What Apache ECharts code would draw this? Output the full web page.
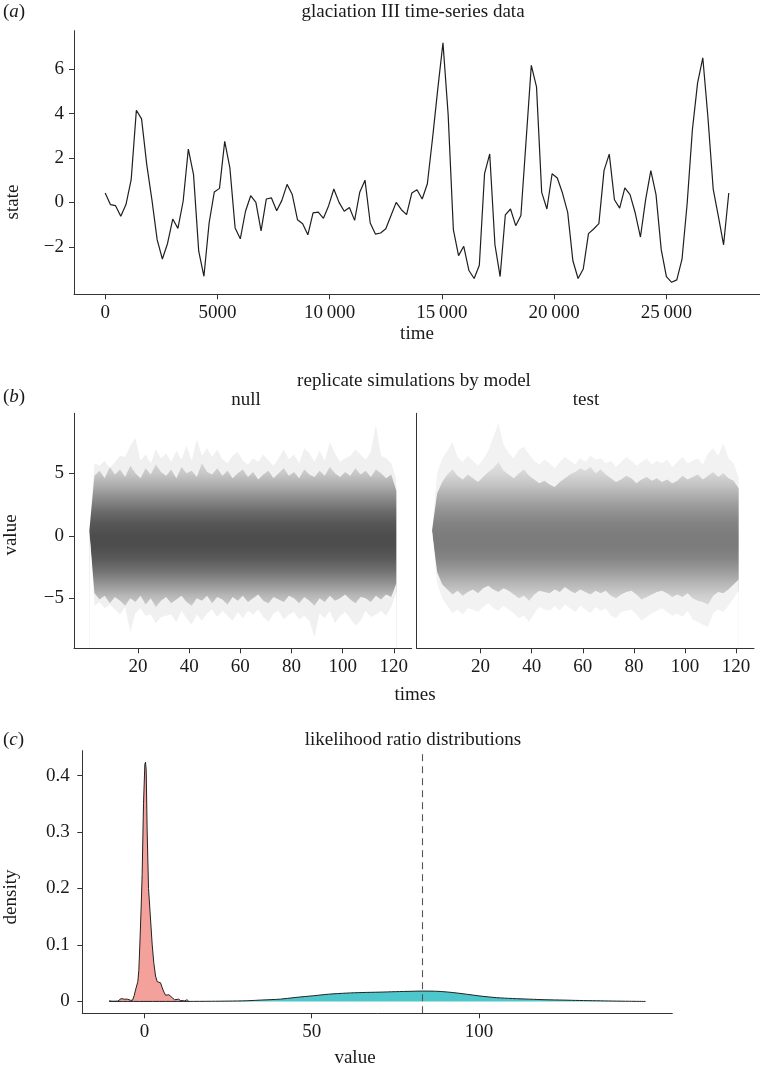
<!DOCTYPE html>
<html><head><meta charset="utf-8">
<script src="https://cdn.jsdelivr.net/npm/echarts@6/dist/echarts.min.js"></script>
<style>html,body{margin:0;padding:0;background:#fff}#c{width:760px;height:1067px}</style>
</head><body><div id="c"></div>
<script>
// ---------- panel (a): glaciation III time series ----------
const glacTime = [0,232,463,695,926,1158,1389,1621,1852,2084,
2315,2547,2778,3010,3241,3473,3704,3936,4167,4399,
4630,4862,5093,5325,5556,5788,6019,6251,6482,6714,
6945,7177,7408,7640,7871,8103,8334,8566,8797,9029,
9260,9492,9723,9955,10186,10418,10649,10881,11112,11344,
11575,11807,12038,12270,12501,12733,12964,13196,13427,13659,
13890,14122,14353,14585,14816,15048,15279,15511,15742,15974,
16205,16437,16668,16900,17131,17363,17594,17826,18057,18289,
18520,18752,18983,19215,19446,19678,19909,20141,20372,20604,
20835,21067,21298,21530,21761,21993,22224,22456,22687,22919,
23150,23382,23613,23845,24076,24308,24539,24771,25002,25234,
25465,25697,25928,26160,26391,26623,26854,27086,27317,27549,
27780];
const glacState = [0.42,-0.10,-0.15,-0.63,-0.10,1.02,4.15,3.76,1.70,0.10,
-1.68,-2.55,-1.85,-0.75,-1.17,0.05,2.40,1.25,-2.20,-3.33,
-0.93,0.47,0.63,2.75,1.55,-1.15,-1.64,-0.40,0.30,0.00,
-1.28,0.15,0.20,-0.38,0.09,0.81,0.35,-0.78,-0.96,-1.46,
-0.47,-0.44,-0.72,-0.15,0.60,0.00,-0.40,-0.23,-0.81,0.47,
1.00,-0.93,-1.43,-1.38,-1.19,-0.59,0.00,-0.33,-0.55,0.42,
0.57,0.15,0.84,2.90,5.10,7.19,3.95,-1.23,-2.40,-1.98,
-3.07,-3.43,-2.83,1.29,2.18,-1.91,-3.34,-0.56,-0.30,-1.05,
-0.59,2.80,6.17,5.20,0.45,-0.30,1.29,1.10,0.42,-0.45,
-2.63,-3.43,-3.00,-1.41,-1.20,-0.96,1.44,2.17,0.12,-0.26,
0.65,0.35,-0.48,-1.56,0.12,1.43,0.35,-2.13,-3.34,-3.60,
-3.49,-2.56,-0.03,3.28,5.38,6.51,3.80,0.60,-0.63,-1.91,
0.42];
const timeTicks = [0,5000,10000,15000,20000,25000];
const stateTicks = [-2,0,2,4,6];

// ---------- panel (b): envelopes of the replicate simulations ----------
const simTimeTicks = [20,40,60,80,100,120];
const simValueTicks = [-5,0,5];
const extTimes = [1,3,5,7,9,11,13,15,17,19,21,23,25,27,29,31,33,35,37,39,41,43,45,47,49,51,53,55,57,59,
61,63,65,67,69,71,73,75,77,79,81,83,85,87,89,91,93,95,97,99,101,103,105,107,109,111,113,115,117,119,121];

// outermost replicate values (sparse extremes)
const nullExtUpper = [0.4,5.8,5.6,6.0,5.4,5.9,6.4,6.3,7.2,7.8,
6.0,6.5,5.8,6.9,6.2,6.6,5.9,6.8,6.1,7.2,
6.0,7.7,6.4,7.0,6.3,6.9,6.1,5.8,6.4,6.7,
6.0,5.7,6.2,5.9,6.5,6.0,5.6,6.2,6.9,6.1,
6.5,5.8,7.0,6.6,5.9,6.8,6.0,7.5,6.6,5.9,
6.2,6.4,6.9,6.5,6.1,6.7,8.9,6.4,6.2,5.8,
4.5];
const nullExtLower = [0.4,-5.6,-5.3,-5.8,-5.5,-5.9,-6.3,-5.7,-7.7,-6.2,
-5.8,-6.4,-6.3,-7.0,-6.5,-6.4,-6.3,-6.9,-6.0,-6.6,
-7.1,-6.3,-6.8,-6.2,-5.9,-6.5,-6.0,-6.4,-6.8,-6.1,
-6.6,-6.0,-6.3,-5.9,-6.5,-6.9,-6.2,-6.0,-6.7,-6.3,
-6.1,-6.7,-6.4,-6.8,-8.1,-6.2,-6.6,-6.0,-7.0,-6.4,
-6.1,-6.6,-7.2,-6.8,-6.0,-6.5,-6.3,-6.0,-6.4,-5.7,
-4.5];
// edge of the dense mass of replicates
const nullMassUpper = [0.4,4.8,5.2,4.6,5.5,4.9,5.3,4.7,5.6,5.0,
4.6,5.4,4.9,5.7,5.1,4.8,5.3,4.6,5.5,5.0,
5.2,4.7,5.8,5.1,4.9,5.4,4.8,5.2,4.6,5.0,
5.3,4.7,5.1,4.5,4.9,5.2,4.6,5.0,5.4,4.8,
5.1,4.6,5.3,4.9,4.7,5.2,4.8,5.5,5.0,4.7,
5.1,4.8,5.4,4.9,5.2,4.7,5.3,5.0,4.6,4.9,
3.6];
const nullMassLower = [0.4,-4.6,-5.1,-4.8,-5.4,-4.9,-5.2,-5.6,-5.0,-5.3,
-4.8,-5.5,-5.0,-5.7,-5.2,-4.9,-5.4,-5.1,-4.8,-5.3,
-5.6,-5.0,-5.2,-4.8,-5.4,-4.9,-5.1,-5.5,-4.9,-5.2,
-4.8,-5.3,-5.0,-4.7,-5.2,-5.4,-4.9,-5.1,-5.3,-4.8,
-5.0,-5.4,-4.9,-5.2,-5.6,-5.0,-5.3,-4.8,-5.2,-5.0,
-4.7,-5.1,-5.4,-4.9,-5.0,-5.3,-4.8,-5.1,-4.7,-4.9,
-3.8];
const testExtUpper = [0.4,5.0,6.2,6.8,7.5,6.3,5.9,6.4,6.0,5.6,
6.1,6.8,7.9,9.0,7.3,6.6,6.2,6.9,7.1,6.5,
6.0,5.7,6.1,5.8,5.4,5.9,6.3,6.0,5.7,6.2,
5.9,6.4,6.1,6.2,5.8,6.0,5.5,5.9,6.3,6.0,
5.6,5.9,6.2,5.7,6.0,5.8,6.1,5.5,5.9,6.3,
5.8,6.0,6.2,5.7,6.6,7.0,6.4,7.4,6.2,5.8,
4.7];
const testExtLower = [0.4,-3.8,-5.0,-5.6,-6.2,-5.9,-6.3,-5.8,-5.9,-6.1,
-5.7,-5.4,-5.8,-6.0,-5.6,-5.9,-6.2,-6.6,-6.4,-6.9,
-6.2,-5.7,-5.9,-6.0,-5.6,-6.0,-5.5,-5.8,-6.1,-5.6,
-5.9,-6.2,-5.7,-6.0,-5.8,-6.4,-6.6,-6.1,-6.0,-5.9,
-6.3,-6.8,-6.5,-6.2,-6.0,-5.8,-6.1,-6.4,-6.2,-6.5,
-6.0,-6.7,-6.9,-7.1,-7.3,-6.2,-5.9,-6.1,-5.6,-5.0,
-4.4];
const testMassUpper = [0.4,3.4,4.3,4.9,5.3,4.8,4.5,4.9,4.6,4.3,
4.7,5.1,5.4,5.9,5.2,4.9,4.6,5.0,5.3,4.8,
4.5,4.2,4.4,4.1,3.9,4.3,4.6,4.9,5.1,5.4,
5.2,5.5,5.0,5.3,4.9,4.6,4.3,4.5,4.8,4.6,
4.2,4.5,4.7,4.4,4.6,4.3,4.5,4.2,4.4,4.8,
4.5,4.7,4.9,4.5,4.8,5.1,4.7,5.0,4.6,4.4,
3.8];
const testMassLower = [0.4,-2.9,-3.9,-4.3,-4.7,-4.4,-4.8,-4.5,-4.3,-4.6,
-4.2,-4.0,-4.3,-4.5,-4.2,-4.4,-4.7,-5.0,-4.8,-5.2,
-4.7,-4.4,-4.5,-4.6,-4.3,-4.5,-4.1,-4.4,-4.6,-4.3,
-4.5,-4.7,-4.4,-4.6,-4.4,-4.8,-5.0,-4.7,-4.5,-4.4,
-4.7,-5.1,-4.9,-4.7,-4.5,-4.4,-4.6,-4.9,-4.7,-4.9,
-4.6,-5.0,-5.2,-5.3,-5.5,-4.8,-4.5,-4.6,-4.3,-3.9,
-3.5];

// ---------- panel (c): likelihood ratio densities ----------
const lrTicks = [0,50,100];
const densityTicks = [0,0.1,0.2,0.3,0.4];
const nullDensX = [-10.6,-9.5,-8.0,-7.0,-6.5,-6.0,-5.6,-5.0,-4.7,-4.2,-3.6,-3.1,-2.7,-2.3,-2.0,-1.7,-1.4,-1.0,-0.7,-0.3,
0.1,0.3,0.5,0.8,1.2,1.7,2.3,2.8,3.3,3.8,4.3,4.8,5.3,5.8,6.3,6.8,7.3,7.8,8.3,9.0,9.55,10.2,10.8,11.3,12.0,12.7,13.2];
const nullDensY = [0.001,0.0003,0.0005,0.005,0.0077,0.004,0.001,0.004,0.0053,0.002,0.002,0.010,0.020,0.022,0.035,0.055,0.100,0.167,0.225,0.350,
0.420,0.4237,0.410,0.300,0.200,0.155,0.100,0.067,0.045,0.035,0.038,0.033,0.024,0.0166,0.011,0.0089,0.0118,0.009,0.0065,0.003,0.0018,0.004,0.0015,0.0005,0.001,0.003,0.0005];
const testDensX = [-10.6,13,20,25,30.6,35,40.6,45,50.5,55,60.5,65,70.4,75,80,83,87,90.4,94,98.3,101.2,105.3,110,115.2,120,125.2,130,135.1,140,145,149.8];
const testDensY = [0,0.0001,0.0003,0.0006,0.0012,0.0025,0.0041,0.007,0.0101,0.0128,0.0148,0.0158,0.0165,0.0173,0.018,0.0184,0.0181,0.0168,0.0145,0.0112,0.009,0.0067,0.0052,0.004,0.003,0.0024,0.0017,0.0012,0.0007,0.0003,0];
const observedLR = 83;

// ---------- styling ----------
const FF = "'Liberation Serif','DejaVu Serif',serif";
const FS = 19;
const AX = '#333';
const TXT = '#1a1a1a';
const SIM_MIN = -9.0, SIM_MAX = 9.8;
const nullShade = [[6.0,'#d8d8d8'],[5.0,'#c8c8c8'],[4.0,'#acacac'],[3.0,'#8c8c8c'],[2.0,'#6d6d6d'],[1.0,'#575757'],[0.0,'#4d4d4d'],
  [-0.8,'#4d4d4d'],[-1.8,'#595959'],[-2.8,'#717171'],[-3.8,'#939393'],[-4.8,'#b7b7b7'],[-5.8,'#d0d0d0']];
const testShade = [[6.0,'#e2e2e2'],[5.0,'#d6d6d6'],[4.0,'#c2c2c2'],[3.0,'#a9a9a9'],[2.0,'#939393'],[1.0,'#838383'],[0.0,'#7c7c7c'],
  [-0.8,'#7b7b7b'],[-1.8,'#858585'],[-2.8,'#9b9b9b'],[-3.8,'#b6b6b6'],[-4.8,'#cecece'],[-5.8,'#dddddd']];
const nullSparse = '#f0f0f0';
const testSparse = '#f2f2f2';

const minus = v => (v < 0 ? '\u2212' + Math.abs(v) : String(v));
const thou = v => (Math.abs(v) >= 10000 ? String(v).replace(/\B(?=(\d{3})+(?!\d))/g, '\u2009') : String(v));

function xAx(gi, min, max, ticks, fmt) {
  return {type:'value', gridIndex:gi, min, max, z:6,
    axisLine:{show:true, onZero:false, lineStyle:{color:AX, width:1}},
    axisTick:{show:true, length:5, lineStyle:{color:AX, width:1}, customValues:ticks},
    axisLabel:{show:true, customValues:ticks, formatter:fmt, fontFamily:FF, fontSize:FS, color:TXT, margin:9},
    splitLine:{show:false}};
}
function yAx(gi, min, max, ticks, fmt, margin, showLabels) {
  return {type:'value', gridIndex:gi, min, max, z:6,
    axisLine:{show:true, onZero:false, lineStyle:{color:AX, width:1}},
    axisTick:{show:showLabels, length:5, lineStyle:{color:AX, width:1}, customValues:ticks},
    axisLabel:{show:showLabels, customValues:ticks, formatter:fmt, fontFamily:FF, fontSize:FS, color:TXT, margin:margin},
    splitLine:{show:false}};
}
function txt(text, x, y, opts) {
  opts = opts || {};
  return {type:'text', x:x, y:y, rotation:opts.rot || 0, silent:true, z:10,
    style:{text:text, font:FS + 'px ' + FF, fill:TXT,
      textAlign:opts.align || 'center', textVerticalAlign:'middle', rich:opts.rich}};
}
const rich = {i:{fontStyle:'italic', fontFamily:FF, fontSize:FS, color:TXT}};

const chart = echarts.init(document.getElementById('c'), null, {renderer:'canvas'});

chart.setOption({
  animation:false,
  backgroundColor:'#ffffff',
  grid:[
    {left:74, top:30.7, width:686, height:263.6, containLabel:false, outerBoundsMode:'none'},
    {left:74, top:413.3, width:337.7, height:235, containLabel:false, outerBoundsMode:'none'},
    {left:416.7, top:413.3, width:337.3, height:235, containLabel:false, outerBoundsMode:'none'},
    {left:82.3, top:750.7, width:590, height:262.6, containLabel:false, outerBoundsMode:'none'}
  ],
  xAxis:[
    xAx(0, -1389, 29171, timeTicks, thou),
    xAx(1, -5, 127, simTimeTicks, String),
    xAx(2, -5, 127, simTimeTicks, String),
    xAx(3, -18.6, 157.8, lrTicks, String)
  ],
  yAxis:[
    yAx(0, -4.14, 7.73, stateTicks, minus, 10, true),
    yAx(1, SIM_MIN, SIM_MAX, simValueTicks, minus, 10, true),
    yAx(2, SIM_MIN, SIM_MAX, simValueTicks, minus, 10, false),
    yAx(3, -0.021, 0.444, densityTicks, v => (v === 0 ? '0' : String(v)), 12.5, true)
  ],
  series:[],
  graphic:[
    txt('({i|a})', 3, 12, {align:'left', rich:rich}),
    txt('glaciation III time-series data', 413, 12),
    txt('state', 13, 202, {rot:Math.PI/2}),
    txt('time', 417, 334),
    txt('({i|b})', 3, 397, {align:'left', rich:rich}),
    txt('replicate simulations by model', 414, 381),
    txt('null', 246, 400),
    txt('test', 586, 400),
    txt('value', 11, 535, {rot:Math.PI/2}),
    txt('times', 415, 695),
    txt('({i|c})', 3, 740, {align:'left', rich:rich}),
    txt('likelihood ratio distributions', 413, 740),
    txt('density', 11, 897, {rot:Math.PI/2}),
    txt('value', 355, 1058)
  ]
});

// vertical grey gradient placed through the axis scale
function shadeGradient(gi, shade) {
  const yTop = chart.convertToPixel({gridIndex:gi}, [0, SIM_MAX])[1];
  const yBot = chart.convertToPixel({gridIndex:gi}, [0, SIM_MIN])[1];
  return {type:'linear', x:0, y:yTop, x2:0, y2:yBot, global:true,
    colorStops: shade.map(s => ({offset:(SIM_MAX - s[0]) / (SIM_MAX - SIM_MIN), color:s[1]}))};
}
function area(ai, times, vals, color) {
  return {type:'line', xAxisIndex:ai, yAxisIndex:ai, data:times.map((t,i)=>[t, vals[i]]),
    symbol:'none', silent:true, lineStyle:{width:0}, areaStyle:{color:color, opacity:1, origin:'start'},
    emphasis:{disabled:true}, z:2};
}

chart.setOption({
  series:[
    {type:'line', xAxisIndex:0, yAxisIndex:0, data:glacTime.map((t,i)=>[t, glacState[i]]),
      symbol:'none', silent:true, lineStyle:{color:'#1f1f1f', width:1.2}, emphasis:{disabled:true}},
    area(1, extTimes, nullExtUpper, nullSparse),
    area(1, extTimes, nullMassUpper, shadeGradient(1, nullShade)),
    area(1, extTimes, nullMassLower, nullSparse),
    area(1, extTimes, nullExtLower, '#ffffff'),
    area(2, extTimes, testExtUpper, testSparse),
    area(2, extTimes, testMassUpper, shadeGradient(2, testShade)),
    area(2, extTimes, testMassLower, testSparse),
    area(2, extTimes, testExtLower, '#ffffff'),
    {type:'line', xAxisIndex:3, yAxisIndex:3, data:nullDensX.map((x,i)=>[x, nullDensY[i]]),
      symbol:'none', silent:true, lineStyle:{color:'#222', width:1}, areaStyle:{color:'#F5A19B', opacity:1, origin:'auto'},
      emphasis:{disabled:true}, z:3},
    {type:'line', xAxisIndex:3, yAxisIndex:3, data:testDensX.map((x,i)=>[x, testDensY[i]]),
      symbol:'none', silent:true, smooth:0.3, lineStyle:{color:'#222', width:1}, areaStyle:{color:'#4EC7CC', opacity:1, origin:'auto'},
      emphasis:{disabled:true}, z:3,
      markLine:{silent:true, symbol:['none','none'], label:{show:false}, animation:false,
        lineStyle:{color:'#555', type:[7,5], width:1.1}, emphasis:{disabled:true}, data:[{xAxis:observedLR}]}}
  ]
});
</script></body></html>
